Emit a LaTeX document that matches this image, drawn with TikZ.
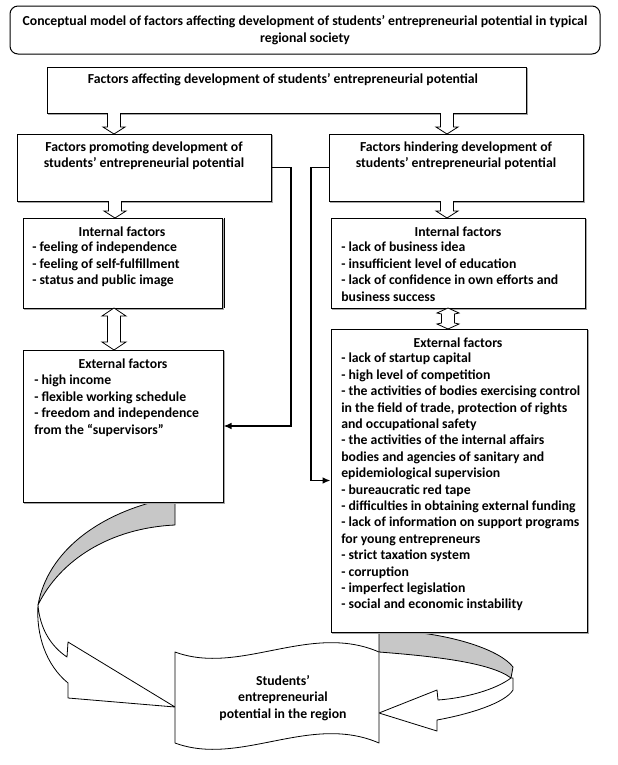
\documentclass[tikz,border=0pt]{standalone}
\usepackage{fontspec}
\setmainfont{Carlito}
\usetikzlibrary{arrows.meta,fit}
\begin{document}
\begin{tikzpicture}[x=0.75pt,y=-0.75pt,
  plainbox/.style={draw, line width=0.75pt, fill=white, inner sep=0pt},
  box/.style={plainbox,
    preaction={draw=black!35, line width=0.75pt, transform canvas={shift={(0.9pt,-0.9pt)}}}},
  txt/.style={font=\bfseries\fontsize{10.3}{12.3}\selectfont, inner sep=0pt},
  lst/.style={txt, anchor=north west, align=left},
  head/.style={txt, anchor=center, align=center},
  conn/.style={line width=1.1pt, -{Latex[length=6pt,width=5pt]}},
  hollow/.style={draw, line width=0.6pt, fill=white},
  band/.style={draw, line width=0.6pt, line join=round},
]
\useasboundingbox (0,0) rectangle (618,765);

% ---- curved arrows (drawn first, behind boxes)
\path[band, fill=black!22] (157,501) .. controls (100,515) and (48,550) .. (38,605)
   .. controls (60,560) and (110,528) .. (175,525) -- (175,501) -- cycle;
\path[band, fill=white] (38,605) .. controls (40,630) and (52,647) .. (67,657)
   -- (68,642) -- (175,707) -- (68,698) -- (68,683)
   .. controls (46,665) and (36,635) .. (38,605) -- cycle;
\path[band, fill=black!22] (379,632) -- (379,652)
   .. controls (430,656) and (490,662) .. (511,678)
   -- (513,667) .. controls (500,650) and (455,636) .. (412,632) -- cycle;
\path[band, fill=white] (511,678) .. controls (495,690) and (465,698) .. (438,700)
   -- (437,690) -- (379,713) -- (437,731) -- (437,720)
   .. controls (470,714) and (505,703) .. (513,690) -- (513,678) -- cycle;

% ---- punched-tape shape with text
\path[band, fill=white] (175,652) .. controls (240,676) and (310,622) .. (379,652)
   -- (379,743) .. controls (310,713) and (240,767) .. (175,743) -- cycle;
\node[head] (stu) at (283,698) {Students’\\entrepreneurial\\potential in the region};

% ---- boxes
\node[plainbox, rounded corners=6pt, fit={(10,6) (600,54)}] (title) {};
\node[head] (titletxt) at (305,30) {Conceptual model of factors affecting development of students’ entrepreneurial potential in typical\\regional society};

\node[box, fit={(47,67) (526,113)}] (aff) {};
\node[head] (afftxt) at (283,80) {Factors affecting development of students’ entrepreneurial potential};

\node[box, fit={(17,134) (271,201)}] (prom) {};
\node[head] (promtxt) at (144,156) {Factors promoting development of\\students’ entrepreneurial potential};

\node[box, fit={(329,134) (583,201)}] (hind) {};
\node[head] (hindtxt) at (456,156) {Factors hindering development of\\students’ entrepreneurial potential};

\node[box, fit={(23,218) (222,308)}] (intL) {};
\draw[line width=0.6pt] (intL.north east) ++(1.8,0) -- ++(0,90);
\node[head] (intLh) at (122,232) {Internal factors};
\node[lst] (intLl) at (32,242) {- feeling of independence\\- feeling of self-fulfillment\\- status and public image};

\node[box, fit={(331,218) (585,308)}] (intR) {};
\node[head] (intRh) at (458,232) {Internal factors};
\node[lst] (intRl) at (341,242) {- lack of business idea\\- insufficient level of education\\- lack of confidence in own efforts and\\business success};

\node[box, fit={(23,350) (223,502)}] (extL) {};
\node[head] (extLh) at (123,364) {External factors};
\node[lst] (extLl) at (34,375) {- high income\\- flexible working schedule\\- freedom and independence\\from the “supervisors”};

\node[box, fit={(331,329) (587,632)}] (extR) {};
\node[head] (extRh) at (458,343) {External factors};
\node[lst] (extRl) at (341,353) {- lack of startup capital\\- high level of competition\\- the activities of bodies exercising control\\in the field of trade, protection of rights\\and occupational safety\\- the activities of the internal affairs\\bodies and agencies of sanitary and\\epidemiological supervision\\- bureaucratic red tape\\- difficulties in obtaining external funding\\- lack of information on support programs\\for young entrepreneurs\\- strict taxation system\\- corruption\\- imperfect legislation\\- social and economic instability};

% ---- hollow block arrows
\path[hollow] (107.5,113) -- (107.5,127) -- (103,127) -- (114,134) -- (125,127) -- (120.5,127) -- (120.5,113);
\path[hollow] (440.5,113) -- (440.5,127) -- (436,127) -- (447,134) -- (458,127) -- (453.5,127) -- (453.5,113);
\path[hollow] (108.5,201) -- (108.5,211) -- (104,211) -- (115,218) -- (126,211) -- (121.5,211) -- (121.5,201);
\path[hollow] (440.5,201) -- (440.5,211) -- (436,211) -- (447,218) -- (458,211) -- (453.5,211) -- (453.5,201);
\path[hollow] (114,308) -- (102,316) -- (107.5,316) -- (107.5,342) -- (102,342) -- (114,350)
   -- (126,342) -- (120.5,342) -- (120.5,316) -- (126,316) -- cycle;
\path[hollow] (448,308) -- (437,313) -- (441.5,314) -- (441.5,323) -- (437,324) -- (448,329)
   -- (459,324) -- (454.5,323) -- (454.5,314) -- (459,313) -- cycle;

% ---- connectors
\coordinate (jL) at (291,0);
\coordinate (jR) at (311,0);
\draw[conn] (prom.east) -| (jL |- extL.east) -- (extL.east);
\draw[conn] (hind.west) -| (jR |- extR.west) -- (extR.west);
\end{tikzpicture}
\end{document}
